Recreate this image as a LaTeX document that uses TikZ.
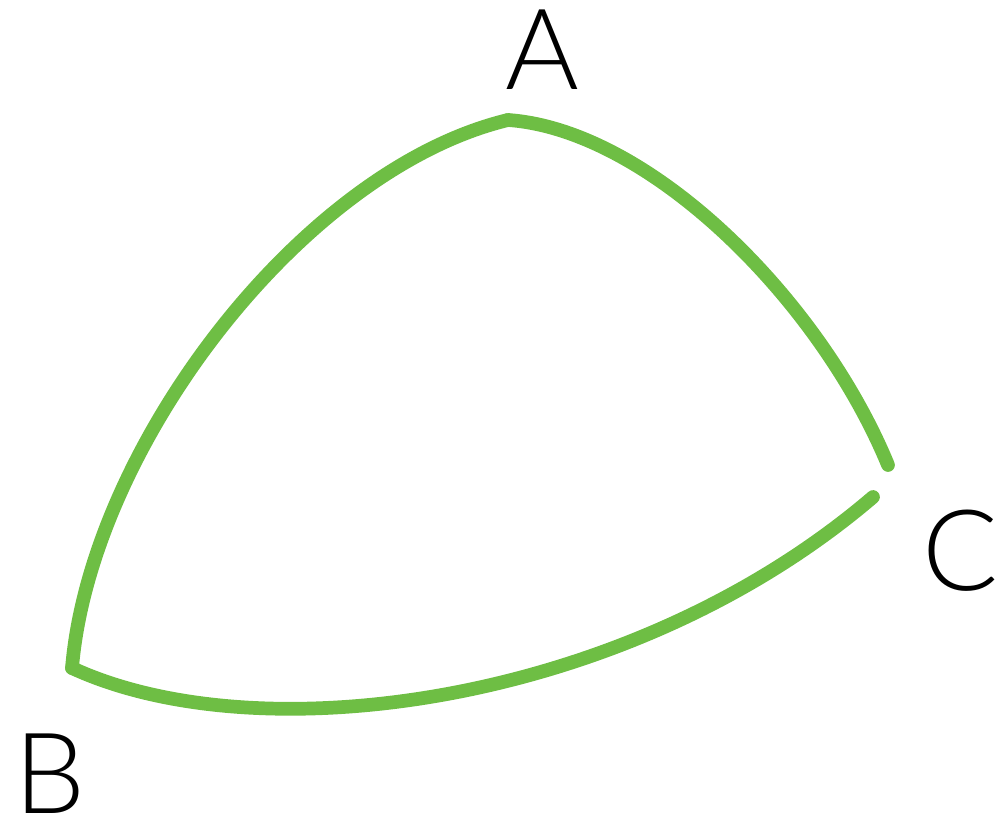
\documentclass[tikz,border=0pt]{standalone}
\usepackage{fontspec}
\setmainfont{Lato}[UprightFont=* Light]
\usepackage{tikz}

\definecolor{chalkgreen}{HTML}{6EBE44}
\tikzset{
  chalk/.style={draw=chalkgreen, line width=3.9pt, line cap=round, line join=round},
  vlabel/.style={anchor=base, inner sep=0pt, font=\fontsize{32}{32}\selectfont}
}

\begin{document}
\begin{tikzpicture}[x=0.01cm, y=-0.01cm]
\useasboundingbox (0,0) rectangle (1004,825);
% corners
\coordinate (a) at (508,120);
\coordinate (b) at (72,668);
\coordinate (c1) at (888,465);
\coordinate (c2) at (873,497);
% labels
\node[vlabel] (la) at (542,90) {A};
\node[vlabel] (lb) at (50,813) {B};
\node[vlabel] (lc) at (961,590) {C};
% sides
\draw[chalk] (a) .. controls (300,170) and (90,450) .. (b);
\draw[chalk] (b) .. controls (260,755) and (630,705) .. (c2);
\draw[chalk] (a) .. controls (650,130) and (820,300) .. (c1);
\end{tikzpicture}
\end{document}
